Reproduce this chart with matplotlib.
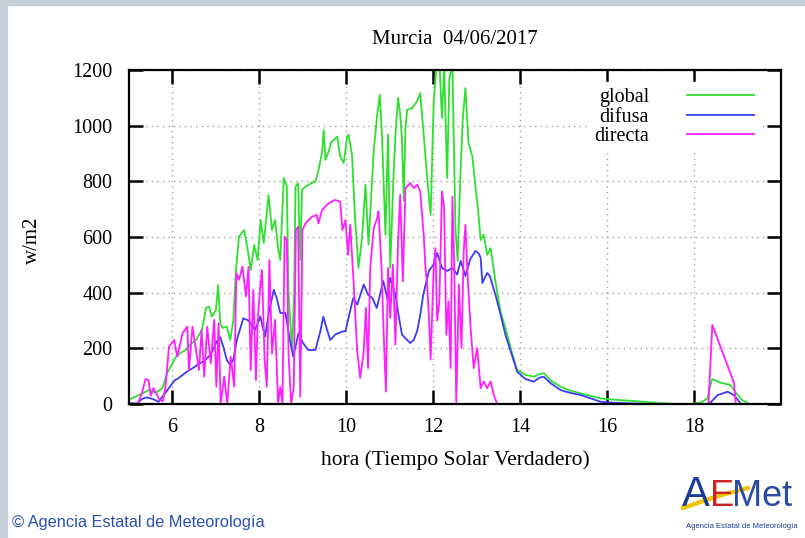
import matplotlib
matplotlib.use("Agg")
import matplotlib.pyplot as plt
from matplotlib.patches import Rectangle

# radiation readings, Murcia 04/06/2017 (hours in true solar time, W/m2)
global_h = [5.00, 5.23, 5.46, 5.61, 5.77, 5.88, 5.96, 6.08, 6.20, 6.31, 6.42, 6.54, 6.68, 6.77,
            6.84, 6.91, 7.00, 7.05, 7.10, 7.15, 7.25, 7.33, 7.40, 7.46, 7.53, 7.65, 7.72, 7.80,
            7.88, 7.96, 8.03, 8.10, 8.21, 8.29, 8.36, 8.43, 8.48, 8.56, 8.63, 8.67, 8.75, 8.80,
            8.83, 8.89, 8.94, 8.98, 9.05, 9.13, 9.21, 9.29, 9.36, 9.44, 9.48, 9.52, 9.59, 9.65,
            9.71, 9.79, 9.86, 9.94, 10.02, 10.05, 10.13, 10.20, 10.28, 10.36, 10.44, 10.51,
            10.63, 10.71, 10.77, 10.82, 10.90, 10.96, 11.01, 11.08, 11.13, 11.19, 11.24, 11.28,
            11.32, 11.36, 11.40, 11.51, 11.63, 11.70, 11.78, 11.86, 11.94, 12.01, 12.09, 12.14,
            12.20, 12.25, 12.32, 12.37, 12.44, 12.51, 12.56, 12.63, 12.68, 12.74, 12.81, 12.90,
            12.97, 13.03, 13.09, 13.16, 13.24, 13.32, 13.43, 13.55, 13.66, 13.80, 13.93, 14.12,
            14.32, 14.45, 14.55, 14.70, 14.93, 15.15, 15.40, 15.85, 16.20, 16.60, 17.00, 17.23,
            17.60, 17.93, 18.16, 18.31, 18.38, 18.42, 18.60, 18.84, 18.96, 19.10, 19.27]
global_v = [15, 32, 50, 40, 57, 111, 134, 170, 185, 194, 215, 230, 266, 345,
            350, 314, 338, 427, 290, 273, 278, 230, 300, 481, 601, 625, 565, 481,
            571, 517, 661, 578, 751, 625, 661, 560, 517, 812, 781, 398, 194, 400,
            781, 794, 517, 769, 780, 787, 795, 799, 841, 902, 984, 877, 906, 940,
            949, 960, 889, 866, 960, 968, 896, 668, 489, 596, 788, 572,
            909, 1040, 1111, 968, 608, 968, 489, 800, 968, 1100, 1040, 950,
            730, 990, 1057, 1063, 1088, 1117, 968, 812, 680, 1088, 1240, 1230,
            1028, 1210, 812, 1171, 1220, 632, 514, 848, 1028, 1135, 938, 889,
            781, 700, 589, 608, 536, 560, 441, 330, 273, 190, 122, 105,
            98, 108, 110, 85, 62, 48, 38, 20, 15, 11, 6, 3,
            0, 0, 6, 20, 70, 90, 77, 68, 40, 15, 0]

difusa_h = [5.00, 5.18, 5.30, 5.41, 5.56, 5.68, 5.83, 5.94, 6.05, 6.14, 6.33, 6.52, 6.60, 6.71,
            6.87, 7.02, 7.10, 7.18, 7.25, 7.33, 7.40, 7.48, 7.63, 7.75, 7.90, 8.02, 8.13, 8.22,
            8.33, 8.40, 8.48, 8.60, 8.70, 8.78, 8.90, 9.00, 9.12, 9.29, 9.40, 9.47, 9.55, 9.63,
            9.75, 9.90, 9.98, 10.08, 10.16, 10.25, 10.40, 10.50, 10.60, 10.70, 10.85, 10.94,
            11.00, 11.13, 11.20, 11.28, 11.40, 11.47, 11.55, 11.63, 11.70, 11.77, 11.90, 12.00,
            12.09, 12.20, 12.32, 12.44, 12.55, 12.63, 12.74, 12.85, 12.97, 13.05, 13.09, 13.13,
            13.24, 13.30, 13.43, 13.55, 13.66, 13.80, 13.93, 14.12, 14.31, 14.45, 14.54, 14.70,
            14.93, 15.15, 15.40, 15.85, 16.20, 16.60, 17.00, 18.30, 18.39, 18.54, 18.77, 18.92,
            19.08, 19.30]
difusa_v = [3, 2, 18, 24, 17, 8, 39, 62, 85, 93, 116, 134, 145, 152,
            176, 225, 240, 200, 158, 140, 160, 230, 308, 300, 266, 314, 242, 330,
            410, 380, 327, 327, 230, 170, 255, 220, 194, 194, 260, 314, 270, 230,
            250, 260, 262, 330, 381, 357, 429, 393, 380, 345, 442, 381,
            453, 393, 320, 249, 230, 219, 230, 262, 320, 393, 478, 500,
            542, 489, 478, 489, 465, 514, 460, 520, 550, 540, 525, 435,
            471, 460, 393, 320, 249, 180, 116, 90, 80, 95, 98, 75,
            50, 40, 32, 8, 4, 2, 0, 0, 7, 32, 44, 32,
            0, 0]

directa_h = [5.00, 5.20, 5.30, 5.38, 5.45, 5.50, 5.56, 5.62, 5.70, 5.78, 5.84, 5.92, 6.04, 6.11,
             6.23, 6.34, 6.38, 6.46, 6.54, 6.61, 6.67, 6.73, 6.80, 6.88, 6.96, 7.01, 7.06, 7.11,
             7.19, 7.26, 7.34, 7.42, 7.47, 7.53, 7.61, 7.69, 7.75, 7.80, 7.86, 7.92, 7.96, 8.02,
             8.06, 8.12, 8.17, 8.23, 8.29, 8.36, 8.43, 8.48, 8.53, 8.58, 8.63, 8.67, 8.73, 8.79,
             8.84, 8.89, 8.94, 8.99, 9.06, 9.21, 9.32, 9.36, 9.44, 9.59, 9.74, 9.86, 9.91, 9.98,
             10.04, 10.09, 10.17, 10.25, 10.32, 10.40, 10.45, 10.50, 10.55, 10.63, 10.71, 10.74,
             10.81, 10.86, 10.91, 10.96, 11.01, 11.07, 11.13, 11.19, 11.24, 11.30, 11.36, 11.47,
             11.55, 11.63, 11.70, 11.78, 11.82, 11.86, 11.90, 11.94, 12.01, 12.05, 12.09, 12.14,
             12.20, 12.25, 12.30, 12.35, 12.40, 12.44, 12.48, 12.53, 12.59, 12.65, 12.70, 12.74,
             12.80, 12.86, 12.93, 13.01, 13.09, 13.16, 13.24, 13.32, 13.39, 13.47, 18.33, 18.42,
             18.92, 18.96, 19.30]
directa_v = [0, 0, 40, 90, 85, 30, 57, 40, 15, 10, 62, 206, 230, 170,
             254, 278, 122, 278, 194, 122, 266, 98, 278, 146, 302, 62, 290, 0,
             98, 0, 170, 62, 470, 446, 493, 386, 493, 122, 410, 86, 300, 422,
             481, 158, 62, 517, 182, 302, 0, 62, 0, 601, 589, 182, 0, 62,
             625, 637, 26, 625, 649, 673, 679, 649, 697, 721, 733, 727, 625, 660,
             536, 644, 429, 189, 93, 189, 345, 129, 489, 632, 668, 692,
             489, 249, 45, 489, 309, 501, 213, 585, 752, 441, 776, 794,
             776, 788, 764, 608, 489, 429, 309, 160, 489, 560, 300, 369,
             764, 704, 249, 369, 129, 745, 513, 0, 429, 201, 549, 644,
             429, 273, 129, 201, 57, 81, 57, 81, 34, 0, 0, 284,
             75, 0, 0]

x_ticks = [6, 8, 10, 12, 14, 16, 18]
y_ticks = [0, 200, 400, 600, 800, 1000, 1200]

plt.rcParams['font.family'] = ['Liberation Serif', 'DejaVu Serif']
sans = ['Liberation Sans', 'DejaVu Sans']

fig = plt.figure(figsize=(8.05, 5.38), dpi=100)
fig.patch.set_facecolor('white')

# light frame strips of the web page
fig.patches.append(Rectangle((0, 1 - 5 / 538), 1, 5 / 538, transform=fig.transFigure,
                             color='#c5d0d8', zorder=0))
fig.patches.append(Rectangle((0, 0), 7 / 805, 1, transform=fig.transFigure,
                             color='#c5d0d8', zorder=0))

ax = fig.add_axes([129 / 805, 1 - 404 / 538, 652 / 805, 334 / 538])
ax.plot(global_h, global_v, color='#2ee02e', lw=1.3, label='global')
ax.plot(difusa_h, difusa_v, color='#3c3cf0', lw=1.3, label='difusa')
ax.plot(directa_h, directa_v, color='#ff1eff', lw=1.3, label='directa')

ax.set_xlim(5, 20)
ax.set_ylim(0, 1200)
ax.set_xticks(x_ticks)
ax.set_yticks(y_ticks)
ax.tick_params(direction='in', length=10, width=1.8, top=True, right=True,
               labelsize=14.5, pad=10)
ax.tick_params(axis='y', pad=12)
ax.grid(True, linestyle=(0, (1, 3)), color='#a0a0a0', lw=1)
for s in ax.spines.values():
    s.set_linewidth(1.6)
    s.set_zorder(5)

leg = ax.legend(loc='upper right', bbox_to_anchor=(0.983, 0.994), markerfirst=False,
                fontsize=14.5, handlelength=3.3, handletextpad=1.9, labelspacing=0.02,
                borderpad=0.3, frameon=True, fancybox=False)
leg.get_frame().set_facecolor('white')
leg.get_frame().set_edgecolor('white')
leg.get_frame().set_alpha(1)

fig.text(455 / 805, 1 - 40 / 538, 'Murcia  04/06/2017', ha='center', va='center', fontsize=15)
fig.text(455 / 805, 1 - 460 / 538, 'hora (Tiempo Solar Verdadero)', ha='center', va='center',
         fontsize=15.5)
fig.text(32 / 805, 1 - 240 / 538, 'w/m2', ha='center', va='center', rotation=90, fontsize=15)

fig.text(12 / 805, 1 - 522 / 538, '\u00a9 Agencia Estatal de Meteorología', ha='left', va='center',
         fontsize=11.8, color='#2a50b0', family=sans)

# AEMet logo, text only
fig.text(682 / 805, 1 - 495 / 538, 'A', fontsize=30, color='#1a3a9a', ha='left', va='center',
         family=sans)
fig.text(710 / 805, 1 - 497 / 538, 'E', fontsize=26, color='#cc2222', ha='left', va='center',
         family=sans)
fig.text(732 / 805, 1 - 497 / 538, 'Met', fontsize=26, color='#2a4aa8', ha='left', va='center',
         family=sans)
fig.lines.append(plt.Line2D([683 / 805, 715 / 805, 748 / 805],
                            [1 - 508 / 538, 1 - 497 / 538, 1 - 488 / 538],
                            transform=fig.transFigure, color='#f2c400', lw=3))
fig.text(742 / 805, 1 - 527 / 538, 'Agencia Estatal de Meteorología', fontsize=5.5,
         color='#1a3a9a', ha='center', va='center', family=sans)

fig.savefig('out.png', dpi=100)
